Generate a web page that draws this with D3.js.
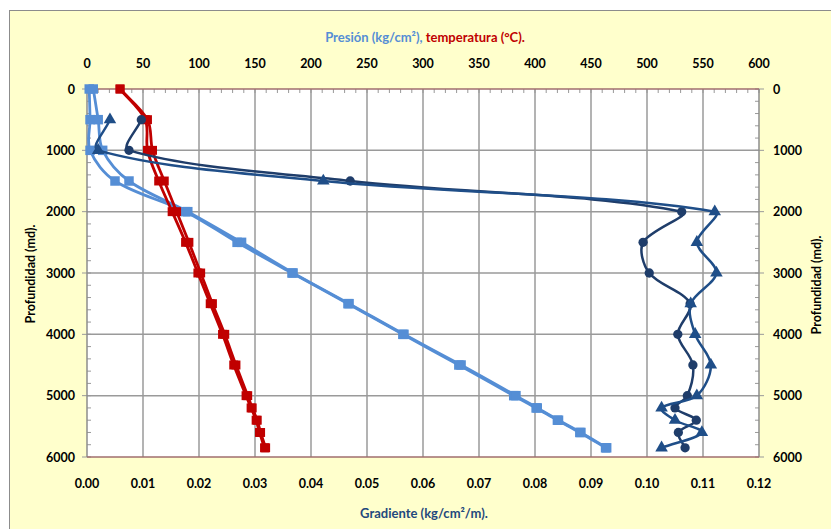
<!DOCTYPE html>
<html><head><meta charset="utf-8">
<script src="https://cdn.jsdelivr.net/npm/d3@7"></script>
<style>body{margin:0;background:#fff}svg{display:block}text{font-family:Lato,"Open Sans",sans-serif;font-weight:bold}</style>
</head><body><svg id="c" width="831" height="529"></svg>
<script>
const depths = [0,500,1000,1500,2000,2500,3000,3500,4000,4500,5000,5200,5400,5600,5850];
const presionA = [2,2.7,2.7,25,88,134,183,233,282,332,381,401,420,440,463];
const presionB = [5.6,10,14,37.5,90,138,184,234,283,334,383,402,421,441,464];
const tempA = [29.5,52,54,64,76,88,99,110,121,131,142,146.5,151,154,158.5];
const tempB = [29.5,54,58.5,69,80,91,101.5,112,123,133,143.5,147.5,152,155,159.5];
const gradDepths = [500,1000,1500,2000,2500,3000,3500,4000,4500,5000,5200,5400,5600,5850];
const gradCirc = [0.0097,0.0075,0.047,0.1062,0.0993,0.1004,0.1077,0.1055,0.1082,0.1072,0.105,0.1088,0.1056,0.1068];
const gradTri = [0.0041,0.002,0.0422,0.1121,0.1089,0.1124,0.1078,0.1086,0.1114,0.1089,0.1026,0.105,0.1098,0.1026];
const topTicks = [0,50,100,150,200,250,300,350,400,450,500,550,600];
const botTicks = [0,0.01,0.02,0.03,0.04,0.05,0.06,0.07,0.08,0.09,0.10,0.11,0.12];
const depthTicks = [0,1000,2000,3000,4000,5000,6000];

const svg = d3.select("#c");
const L=87,R=759,T=89,B=457;
const xTop = d3.scaleLinear([0,600],[L,R]);
const xBot = d3.scaleLinear([0,0.12],[L,R]);
const y = d3.scaleLinear([0,6000],[T,B]);

svg.append("rect").attr("x",9.5).attr("y",10.5).attr("width",840).attr("height",540)
  .attr("fill","#ffffcc").attr("stroke","#8c8c8c").attr("stroke-width",1);
svg.append("rect").attr("x",L).attr("y",T).attr("width",R-L).attr("height",B-T).attr("fill","#fff");

// gridlines
const g = svg.append("g");
g.selectAll(".vg").data(botTicks.slice(1,-1)).join("line")
  .attr("x1",d=>xBot(d)).attr("x2",d=>xBot(d)).attr("y1",T).attr("y2",B)
  .attr("stroke","#9a9a9a").attr("stroke-width",1.5);
g.selectAll(".hg").data(depthTicks.slice(1,-1)).join("line")
  .attr("y1",d=>y(d)).attr("y2",d=>y(d)).attr("x1",L).attr("x2",R)
  .attr("stroke","#9a9a9a").attr("stroke-width",1.5);

// minor ticks
const minorTop = d3.range(0,601,10);
g.selectAll(".mt").data(minorTop).join("line")
  .attr("x1",d=>xTop(d)).attr("x2",d=>xTop(d)).attr("y1",T).attr("y2",T+4)
  .attr("stroke","#999").attr("stroke-width",1);
const minorD = d3.range(0,6001,200);
g.selectAll(".ml").data(minorD).join("line")
  .attr("x1",L).attr("x2",L+4).attr("y1",d=>y(d)).attr("y2",d=>y(d))
  .attr("stroke","#999").attr("stroke-width",1);
g.selectAll(".mr").data(minorD).join("line")
  .attr("x1",R-4).attr("x2",R).attr("y1",d=>y(d)).attr("y2",d=>y(d))
  .attr("stroke","#999").attr("stroke-width",1);
g.selectAll(".Ml").data(depthTicks).join("line")
  .attr("x1",L-5).attr("x2",L).attr("y1",d=>y(d)).attr("y2",d=>y(d)).attr("stroke","#999");
g.selectAll(".Mr").data(depthTicks).join("line")
  .attr("x1",R).attr("x2",R+5).attr("y1",d=>y(d)).attr("y2",d=>y(d)).attr("stroke","#999");

// frame
svg.append("line").attr("x1",L).attr("x2",L).attr("y1",T).attr("y2",B).attr("stroke","#8c8c8c").attr("stroke-width",1.5);
svg.append("line").attr("x1",R).attr("x2",R).attr("y1",T).attr("y2",B).attr("stroke","#8c8c8c").attr("stroke-width",1.5);
svg.append("line").attr("x1",L).attr("x2",R).attr("y1",T).attr("y2",T).attr("stroke","#a06e6e").attr("stroke-width",1.5);
svg.append("line").attr("x1",L).attr("x2",R).attr("y1",B).attr("y2",B).attr("stroke","#a06e6e").attr("stroke-width",1.5);

// tick labels
const fs = 12.5;
svg.selectAll(".tl").data(topTicks).join("text")
  .attr("x",d=>xTop(d)).attr("y",68).attr("text-anchor","middle").attr("font-size",fs).text(d=>d);
svg.selectAll(".bl").data(botTicks).join("text")
  .attr("x",d=>xBot(d)).attr("y",488).attr("text-anchor","middle").attr("font-size",fs).text(d=>d.toFixed(2));
svg.selectAll(".ll").data(depthTicks).join("text")
  .attr("x",75).attr("y",d=>y(d)+4.5).attr("text-anchor","end").attr("font-size",fs).text(d=>d);
svg.selectAll(".rl").data(depthTicks).join("text")
  .attr("x",773).attr("y",d=>y(d)+4.5).attr("text-anchor","start").attr("font-size",fs).text(d=>d);

// titles
const tt = svg.append("text").attr("x",425).attr("y",42).attr("text-anchor","middle").attr("font-size",13);
tt.append("tspan").attr("fill","#558ed5").text("Presión (kg/cm²), ");
tt.append("tspan").attr("fill","#c00000").text("temperatura (°C).");
svg.append("text").attr("x",424).attr("y",518).attr("text-anchor","middle").attr("font-size",13)
  .attr("fill","#1f497d").text("Gradiente (kg/cm²/m).");
svg.append("text").attr("transform","translate(35,274) rotate(-90)").attr("text-anchor","middle")
  .attr("font-size",12.5).text("Profundidad (md).");
svg.append("text").attr("transform","translate(821,285) rotate(-90)").attr("text-anchor","middle")
  .attr("font-size",12.5).text("Profundidad (md).");

// Excel-like smoothing: Bezier with chord-weighted tangents
function smoothPath(pts){
  const p = d3.path();
  const n = pts.length;
  const dist = (a,b)=>Math.hypot(b[0]-a[0], b[1]-a[1]);
  p.moveTo(pts[0][0], pts[0][1]);
  for(let i=0;i<n-1;i++){
    const P0 = pts[Math.max(i-1,0)], P1 = pts[i], P2 = pts[i+1], P3 = pts[Math.min(i+2,n-1)];
    const d01 = dist(P0,P1), d12 = dist(P1,P2), d23 = dist(P2,P3);
    const s1 = d12/((d01+d12)||1)/3, s2 = d12/((d12+d23)||1)/3;
    const c1 = [P1[0]+(P2[0]-P0[0])*s1, P1[1]+(P2[1]-P0[1])*s1];
    const c2 = [P2[0]-(P3[0]-P1[0])*s2, P2[1]-(P3[1]-P1[1])*s2];
    p.bezierCurveTo(c1[0],c1[1],c2[0],c2[1],P2[0],P2[1]);
  }
  return p.toString();
}
function series(xs, ds, xs_scale, color, sym, size, lw){
  const pts = xs.map((v,i)=>[xs_scale(v), y(ds[i])]);
  svg.append("path").attr("d", smoothPath(pts)).attr("fill","none")
    .attr("stroke",color).attr("stroke-width",lw);
  svg.append("g").selectAll("path").data(pts).join("path")
    .attr("transform",p=>`translate(${p[0]},${p[1]})`)
    .attr("d", d3.symbol().type(sym).size(size)).attr("fill",color);
}
series(presionA, depths, xTop, "#558ed5", d3.symbolSquare, 90, 2.8);
series(presionB, depths, xTop, "#558ed5", d3.symbolSquare, 90, 2.8);
series(tempA, depths, xTop, "#c00000", d3.symbolSquare, 80, 2.8);
series(tempB, depths, xTop, "#c00000", d3.symbolSquare, 80, 2.8);
series(gradCirc, gradDepths, xBot, "#1f3d6a", d3.symbolCircle, 68, 2.5);
series(gradTri, gradDepths, xBot, "#1f4e88", d3.symbolTriangle, 68, 2.5);
</script></body></html>
